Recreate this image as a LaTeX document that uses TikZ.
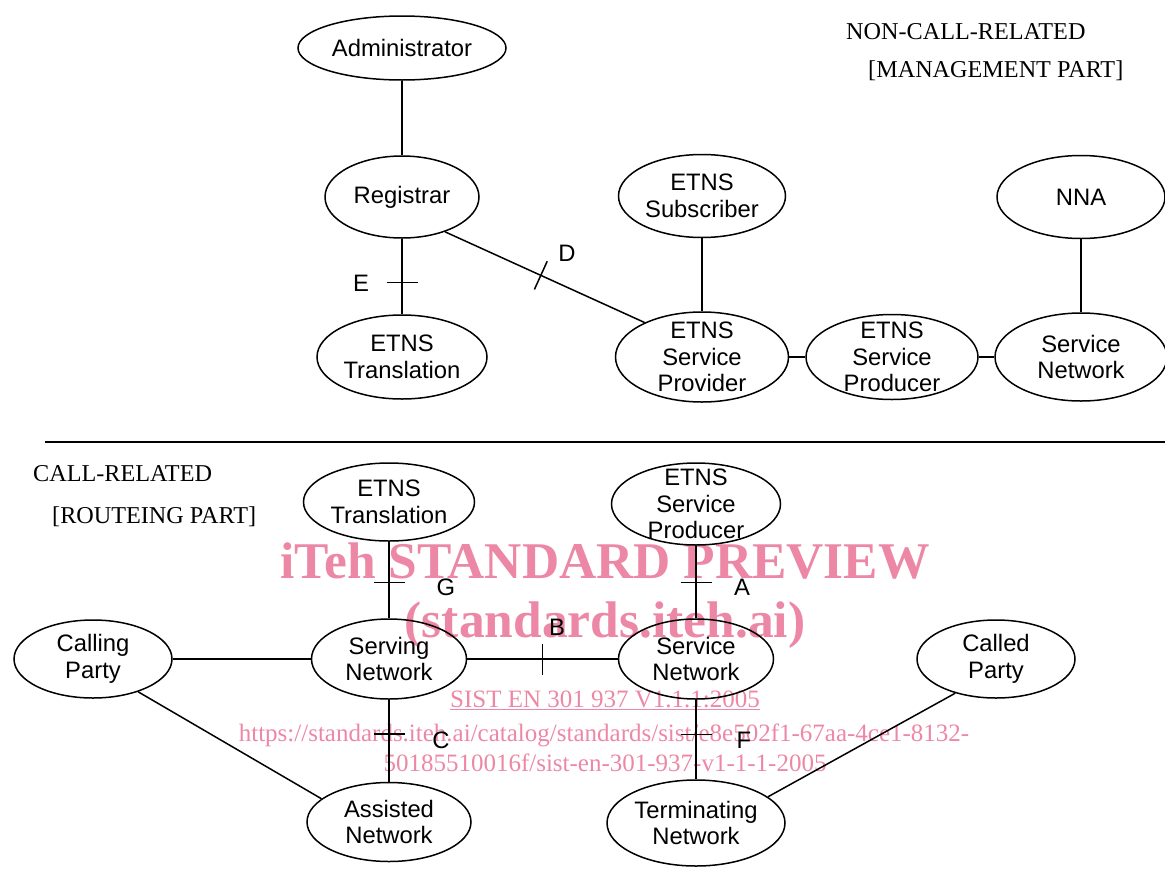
\documentclass[tikz,border=0pt]{standalone}
\usepackage{fontspec}
\setmainfont{Liberation Serif}
\setsansfont{Liberation Sans}
\usetikzlibrary{shapes.geometric}
\definecolor{wmpink}{RGB}{236,136,166}
\newcommand\tkbar{\rule{1.5pt}{31pt}}
\tikzset{
  el/.style={draw, ellipse, inner sep=0pt, line width=1.5pt},
  txt/.style={font=\sffamily\fontsize{23.8}{26.5}\selectfont, align=center, inner sep=0pt},
  lab/.style={font=\sffamily\fontsize{23.8}{26.5}\selectfont, inner sep=0pt},
  captxt/.style={font=\fontsize{24.2}{26}\selectfont, anchor=base west, inner sep=0pt},
  con/.style={line width=1.5pt},
  tk/.style={sloped, inner sep=0pt, outer sep=0pt},
  wmbig/.style={text=wmpink, font=\bfseries\fontsize{51.5}{55}\selectfont, anchor=base, inner sep=0pt},
  wmsmall/.style={text=wmpink, font=\fontsize{25}{28}\selectfont, anchor=base, inner sep=0pt}
}
\begin{document}
\begin{tikzpicture}[x=1pt,y=-1pt]
\useasboundingbox (0,0) rectangle (1165,868);
% watermark
\node[wmbig] (wm1) at (605,578) {iTeh STANDARD PREVIEW};
\node[wmbig] (wm2) at (605,637) {(standards.iteh.ai)};
\node[wmsmall] (wm3) at (605,707) {\underline{SIST EN 301 937 V1.1.1:2005}};
\node[wmsmall] (wm4) at (604,741) {https://standards.iteh.ai/catalog/standards/sist/e8e502f1-67aa-4ce1-8132-};
\node[wmsmall] (wm5) at (605,771) {50185510016f/sist-en-301-937-v1-1-1-2005};

% captions
\node[captxt] (c1) at (846,39) {NON-CALL-RELATED};
\node[captxt] (c2) at (868,77) {[MANAGEMENT PART]};
\node[captxt] (c3) at (33,481) {CALL-RELATED};
\node[captxt] (c4) at (52,523) {[ROUTEING PART]};

% separator
\coordinate (sepL) at (45,442);
\coordinate (sepR) at (1165,442);
\draw[con] (sepL) -- (sepR);

% top part
\node[el, minimum width=208pt, minimum height=64pt, label={[txt]center:Administrator}] (adm) at (402,48) {};
\node[el, minimum width=154pt, minimum height=82pt, label={[txt]center:Registrar}] (reg) at (402,197) {};
\node[el, minimum width=167pt, minimum height=83pt, label={[txt]center:ETNS\\Subscriber}] (sub) at (702,196) {};
\node[el, minimum width=168pt, minimum height=83pt, label={[txt]center:NNA}] (nna) at (1081,197) {};
\node[el, minimum width=170pt, minimum height=84pt, label={[txt]center:ETNS\\Translation}] (trt) at (402,357) {};
\node[el, minimum width=173pt, minimum height=90pt, label={[txt]center:ETNS\\Service\\Provider}] (prov) at (702,357) {};
\node[el, minimum width=172pt, minimum height=85pt, label={[txt]center:ETNS\\Service\\Producer}] (prodt) at (892,357) {};
\node[el, minimum width=172pt, minimum height=88pt, label={[txt]center:Service\\Network}] (snt) at (1081,357) {};

\draw[con] (adm) -- (reg);
\draw[con] (reg) -- node[tk, pos=0.58]{\tkbar} (trt);
\draw[con] (reg.-39) -- node[tk, pos=0.48]{\tkbar} (prov.149);
\draw[con] (sub) -- (prov);
\draw[con] (prov) -- (prodt);
\draw[con] (prodt) -- (snt);
\draw[con] (nna) -- (snt);

\node[lab] (lE) at (361,283) {E};
\node[lab] (lD) at (567,253) {D};

% bottom part
\node[el, minimum width=171pt, minimum height=78pt, label={[txt]center:ETNS\\Translation}] (trb) at (389,502) {};
\node[el, minimum width=169pt, minimum height=82pt, label={[txt]center:ETNS\\Service\\Producer}] (prodb) at (696,504) {};
\node[el, minimum width=158pt, minimum height=78pt, label={[txt]center:Calling\\Party}] (calling) at (93,659) {};
\node[el, minimum width=155pt, minimum height=80pt, label={[txt]center:Serving\\Network}] (serving) at (389,659) {};
\node[el, minimum width=155pt, minimum height=80pt, label={[txt]center:Service\\Network}] (snb) at (696,659) {};
\node[el, minimum width=158pt, minimum height=78pt, label={[txt]center:Called\\Party}] (called) at (996,659) {};
\node[el, minimum width=164pt, minimum height=79pt, label={[txt]center:Assisted\\Network}] (assisted) at (389,822) {};
\node[el, minimum width=178pt, minimum height=86pt, label={[txt]center:Terminating\\Network}] (term) at (696,823) {};

\draw[con] (trb) -- node[tk, pos=0.53]{\tkbar} (serving);
\draw[con] (prodb) -- node[tk, pos=0.51]{\tkbar} (snb);
\draw[con] (calling) -- (serving);
\draw[con] (serving) -- node[tk, pos=0.5]{\tkbar} (snb);
\draw[con] (serving) -- node[tk, pos=0.42]{\tkbar} (assisted);
\draw[con] (snb) -- node[tk, pos=0.44]{\tkbar} (term);
\draw[con] (calling.-36) -- (assisted.161);
\draw[con] (called.220) -- (term.20);

\node[lab] (lG) at (446,587) {G};
\node[lab] (lA) at (742,587) {A};
\node[lab] (lB) at (557,627) {B};
\node[lab] (lC) at (441,740) {C};
\node[lab] (lF) at (744,740) {F};
\end{tikzpicture}
\end{document}
